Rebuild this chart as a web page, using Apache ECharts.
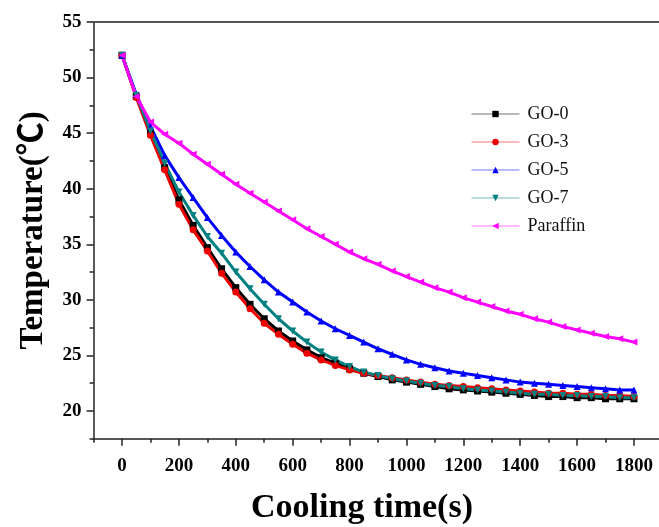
<!DOCTYPE html>
<html>
<head>
<meta charset="utf-8">
<script src="https://cdn.jsdelivr.net/npm/echarts@6/dist/echarts.min.js"></script>
<style>
	html, body { margin: 0; padding: 0; background: #fff; }
	#chart { width: 659px; height: 527px; }
</style>
</head>
<body>
<div id="chart"></div>
<script>
// 冷却时间 (s)
var times = [0, 50, 100, 150, 200, 250, 300, 350, 400, 450, 500, 550, 600, 650, 700, 750, 800, 850, 900,
	950, 1000, 1050, 1100, 1150, 1200, 1250, 1300, 1350, 1400, 1450, 1500, 1550, 1600, 1650, 1700, 1750, 1800];

var names = ['GO-0', 'GO-3', 'GO-5', 'GO-7', 'Paraffin'];

var go0 = [52.0, 48.3, 45.0, 41.9, 39.0, 36.7, 34.7, 32.8, 31.1, 29.6, 28.3, 27.2, 26.3, 25.5, 24.8, 24.3, 23.8, 23.4, 23.1,
	22.8, 22.6, 22.4, 22.2, 22.0, 21.9, 21.8, 21.7, 21.6, 21.5, 21.4, 21.3, 21.3, 21.2, 21.2, 21.1, 21.1, 21.1];
var go3 = [52.0, 48.2, 44.8, 41.7, 38.6, 36.3, 34.4, 32.4, 30.7, 29.2, 27.9, 26.9, 26.0, 25.2, 24.6, 24.1, 23.7, 23.4, 23.2,
	23.0, 22.8, 22.6, 22.4, 22.3, 22.2, 22.1, 22.0, 21.9, 21.8, 21.7, 21.6, 21.6, 21.5, 21.5, 21.4, 21.4, 21.3];
var go5 = [52.0, 48.5, 45.6, 43.0, 41.0, 39.2, 37.4, 35.8, 34.3, 33.0, 31.8, 30.7, 29.8, 28.9, 28.1, 27.4, 26.8, 26.2, 25.6,
	25.1, 24.6, 24.2, 23.9, 23.6, 23.4, 23.2, 23.0, 22.8, 22.6, 22.5, 22.4, 22.3, 22.2, 22.1, 22.0, 21.9, 21.9];
var go7 = [52.0, 48.4, 45.2, 42.3, 39.7, 37.6, 35.7, 34.2, 32.5, 31.0, 29.6, 28.3, 27.2, 26.2, 25.3, 24.6, 24.0, 23.5, 23.2,
	22.9, 22.7, 22.5, 22.3, 22.2, 22.0, 21.9, 21.8, 21.7, 21.6, 21.5, 21.5, 21.4, 21.4, 21.3, 21.3, 21.2, 21.2];
var paraffin = [52.0, 48.3, 46.0, 44.9, 44.1, 43.1, 42.2, 41.3, 40.4, 39.6, 38.8, 38.0, 37.2, 36.4, 35.7, 35.0, 34.3, 33.7, 33.2,
	32.6, 32.1, 31.6, 31.1, 30.7, 30.2, 29.8, 29.4, 29.0, 28.7, 28.3, 28.0, 27.6, 27.3, 27.0, 26.7, 26.5, 26.2];

// 刻度
var xTicks = [0, 200, 400, 600, 800, 1000, 1200, 1400, 1600, 1800];
var xMinorTicks = [-100, 100, 300, 500, 700, 900, 1100, 1300, 1500, 1700, 1900];
var yTicks = [20, 25, 30, 35, 40, 45, 50, 55];
var yMinorTicks = [17.5, 22.5, 27.5, 32.5, 37.5, 42.5, 47.5, 52.5];

var font = '"Liberation Serif", "Noto Sans CJK SC", serif';

function pairs(vals) {
	var out = [];
	for (var i = 0; i < times.length; i++) {
		out.push([times[i], vals[i]]);
	}
	return out;
}

function makeSeries(name, vals, color, symbol, rotate) {
	return {
		name: name,
		type: 'line',
		xAxisIndex: 0,
		yAxisIndex: 0,
		data: pairs(vals),
		symbol: symbol,
		symbolSize: 7,
		symbolRotate: rotate,
		showAllSymbol: true,
		lineStyle: { color: color, width: 3 },
		itemStyle: { color: color },
		animation: false
	};
}

function plain(v) {
	return String(v);
}

var chart = echarts.init(document.getElementById('chart'));

var xBase = { type: 'value', min: -100, max: 1900, gridIndex: 0, splitLine: { show: false } };
var yBase = { type: 'value', min: 17.5, max: 55, gridIndex: 0, splitLine: { show: false } };

var option = {
	backgroundColor: '#fff',
	animation: false,
	grid: { left: 93.6, right: -3.4, top: 22, bottom: 88.2, containLabel: false, outerBoundsMode: 'none' },
	legend: {
		orient: 'vertical',
		left: 466,
		top: 100,
		itemWidth: 48,
		itemHeight: 8,
		itemGap: 10,
		data: names,
		lineStyle: { width: 1, opacity: 0.55 },
		textStyle: { fontFamily: font, fontSize: 18, color: '#111', padding: [0, 0, 0, 3] }
	},
	xAxis: [
		Object.assign({}, xBase, {
			position: 'bottom',
			name: 'Cooling time(s)',
			nameLocation: 'middle',
			nameGap: 52,
			nameTextStyle: { fontFamily: font, fontSize: 34, fontWeight: 'bold', color: '#000', padding: [0, 32, 0, 0] },
			axisLine: { show: true, onZero: false, lineStyle: { color: '#222', width: 1.5 } },
			axisTick: { show: true, inside: false, length: 7, customValues: xTicks, lineStyle: { color: '#222', width: 1.5 } },
			axisLabel: { show: true, customValues: xTicks, formatter: plain, margin: 18, fontFamily: font, fontSize: 19, fontWeight: 'bold', color: '#000' }
		}),
		Object.assign({}, xBase, {
			position: 'bottom',
			axisLine: { show: false, onZero: false },
			axisTick: { show: true, inside: false, length: 4, customValues: xMinorTicks, lineStyle: { color: '#222', width: 1.5 } },
			axisLabel: { show: false }
		}),
		Object.assign({}, xBase, {
			position: 'top',
			axisLine: { show: true, onZero: false, lineStyle: { color: '#555', width: 2 } },
			axisTick: { show: false },
			axisLabel: { show: false }
		})
	],
	yAxis: [
		Object.assign({}, yBase, {
			position: 'left',
			name: 'Temperature(℃)',
			nameLocation: 'middle',
			nameGap: 44,
			nameRotate: 90,
			nameTextStyle: { fontFamily: font, fontSize: 33, fontWeight: 'bold', color: '#000' },
			axisLine: { show: true, onZero: false, lineStyle: { color: '#222', width: 1.5 } },
			axisTick: { show: true, inside: false, length: 7, customValues: yTicks, lineStyle: { color: '#222', width: 1.5 } },
			axisLabel: { show: true, customValues: yTicks, formatter: plain, margin: 12, fontFamily: font, fontSize: 19, fontWeight: 'bold', color: '#000' }
		}),
		Object.assign({}, yBase, {
			position: 'left',
			axisLine: { show: false, onZero: false },
			axisTick: { show: true, inside: false, length: 4, customValues: yMinorTicks, lineStyle: { color: '#222', width: 1.5 } },
			axisLabel: { show: false }
		})
	],
	series: [
		makeSeries('GO-0', go0, '#000000', 'rect', 0),
		makeSeries('GO-3', go3, '#ee0000', 'circle', 0),
		makeSeries('GO-5', go5, '#0000ff', 'triangle', 0),
		makeSeries('GO-7', go7, '#008080', 'triangle', 180),
		makeSeries('Paraffin', paraffin, '#ff00ff', 'triangle', 90)
	]
};

chart.setOption(option);
</script>
</body>
</html>
